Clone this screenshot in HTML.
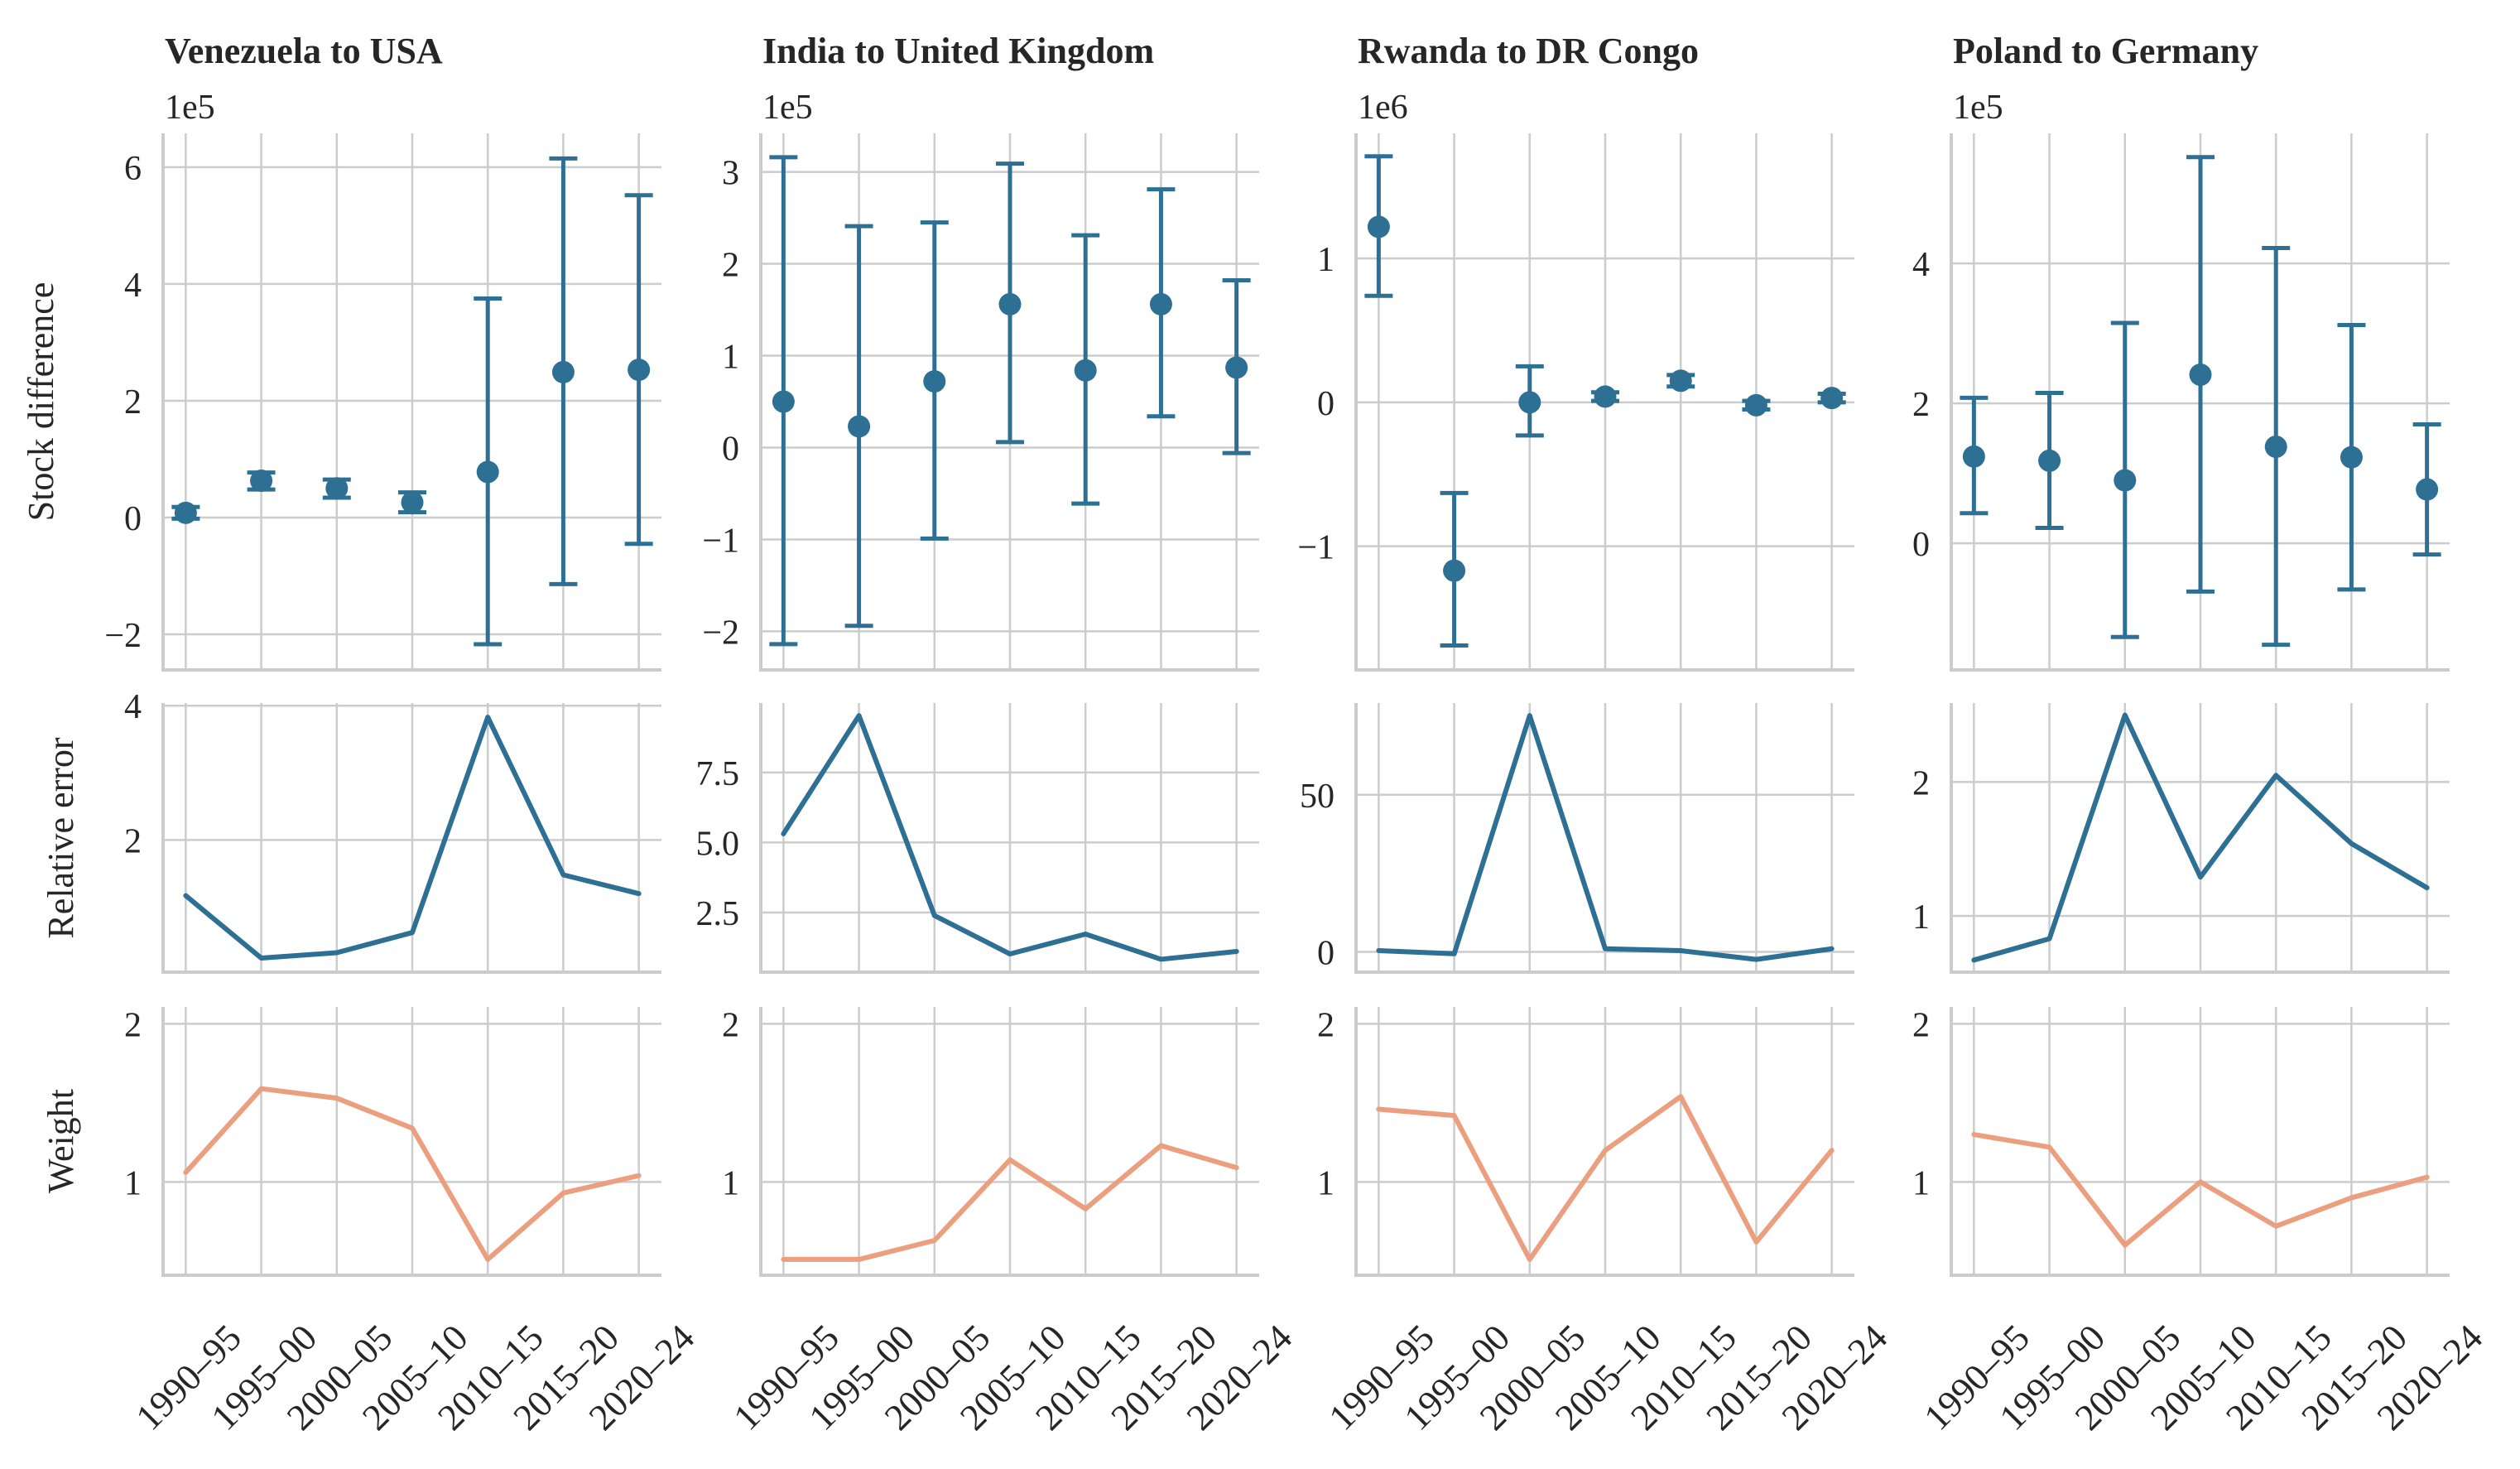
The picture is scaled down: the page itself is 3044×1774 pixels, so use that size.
<!DOCTYPE html>
<html><head><meta charset="utf-8"><style>
html,body{margin:0;padding:0;background:#fff;}
svg text{font-family:"Liberation Serif",serif;fill:#262626;}
</style></head><body>
<svg id="chart" width="3044" height="1769" viewBox="0 0 3044 1769" xmlns="http://www.w3.org/2000/svg"></svg>
<script>
const categories = ["1990–95","1995–00","2000–05","2005–10","2010–15","2015–20","2020–24"];
const panelTitles = ["Venezuela to USA","India to United Kingdom","Rwanda to DR Congo","Poland to Germany"];
const scaleLabels = ["1e5","1e5","1e6","1e5"];
// Stock difference (in scaled units)
const stockMean = [
 [0.08,0.63,0.5,0.26,0.78,2.49,2.53],
 [0.5,0.23,0.72,1.56,0.84,1.56,0.87],
 [1.22,-1.17,0,0.04,0.15,-0.02,0.03],
 [1.24,1.18,0.9,2.41,1.38,1.23,0.77]];
const stockLow = [
 [-0.02,0.48,0.34,0.09,-2.17,-1.14,-0.45],
 [-2.14,-1.94,-0.99,0.06,-0.61,0.34,-0.06],
 [0.74,-1.69,-0.23,0.01,0.11,-0.05,0.0],
 [0.43,0.22,-1.34,-0.69,-1.45,-0.66,-0.16]];
const stockHigh = [
 [0.18,0.77,0.65,0.43,3.75,6.15,5.52],
 [3.16,2.41,2.45,3.09,2.31,2.81,1.82],
 [1.71,-0.63,0.25,0.07,0.19,0.01,0.06],
 [2.08,2.15,3.15,5.52,4.22,3.12,1.70]];
const relError = [
 [1.17,0.24,0.32,0.62,3.83,1.48,1.2],
 [5.31,9.53,2.39,1.02,1.73,0.83,1.11],
 [0.4,-0.6,75.2,1.0,0.4,-2.4,1.0],
 [0.67,0.83,2.5,1.29,2.05,1.54,1.21]];
const weights = [
 [1.06,1.59,1.53,1.34,0.51,0.93,1.04],
 [0.51,0.51,0.63,1.14,0.83,1.23,1.09],
 [1.46,1.42,0.51,1.20,1.54,0.62,1.20],
 [1.30,1.22,0.60,1.0,0.72,0.90,1.03]];
const stockTicks = [[-2,0,2,4,6],[-2,-1,0,1,2,3],[-1,0,1],[0,2,4]];
const stockTickLabels = [["−2","0","2","4","6"],["−2","−1","0","1","2","3"],["−1","0","1"],["0","2","4"]];
const stockLim = [[-2.61,6.58],[-2.42,3.42],[-1.86,1.87],[-1.81,5.86]];
const errTicks = [[2,4],[2.5,5,7.5],[0,50],[1,2]];
const errTickLabels = [["2","4"],["2.5","5.0","7.5"],["0","50"],["1","2"]];
const errLim = [[0.03,4.04],[0.37,9.98],[-6.45,79.2],[0.58,2.59]];
const wTicks = [1,2];
const wTickLabels = ["1","2"];
const wLim = [0.41,2.107];

const svg = document.getElementById('chart');
const NS = "http://www.w3.org/2000/svg";
const colX = [197,919,1638,2357], W = 602;
const rows = [[161,809],[849,1174],[1216,1540]];
const BLUE = "#2e6f94", SALMON = "#eb9f7e", GRID = "#cccccc";
function el(tag, attrs, parent){const e=document.createElementNS(NS,tag);for(const k in attrs)e.setAttribute(k,attrs[k]);(parent||svg).appendChild(e);return e;}
function xs(c,i){return colX[c] + (i+0.3)/6.6*W;}
function ys(r,lim,v){const [t,b]=rows[r];return b-(v-lim[0])/(lim[1]-lim[0])*(b-t);}

function axes(c,r,lim,ticks,labels,name){
  const g=el('g',{});
  
  
  const [t,b]=rows[r];
  categories.forEach((cat,i)=>{el('line',{x1:xs(c,i),x2:xs(c,i),y1:t,y2:b,stroke:GRID,'stroke-width':2.5},g);});
  ticks.forEach((v,k)=>{
    const y=ys(r,lim,v);
    el('line',{x1:colX[c],x2:colX[c]+W,y1:y,y2:y,stroke:GRID,'stroke-width':2.5},g);
    const tx=el('text',{x:colX[c]-26,y:y+15,'font-size':42,'text-anchor':'end'},g);
    tx.textContent=labels[k];
    
    
  });
  el('line',{x1:colX[c],x2:colX[c],y1:t,y2:b+2,stroke:GRID,'stroke-width':4},g);
  el('line',{x1:colX[c]-2,x2:colX[c]+W,y1:b,y2:b,stroke:GRID,'stroke-width':4},g);
  return g;
}

for(let c=0;c<4;c++){
  const ti=el('text',{x:colX[c]+2,y:76,'font-size':44,'font-weight':'bold'});
  ti.textContent=panelTitles[c];
  
  
  const sc=el('text',{x:colX[c]+2,y:143,'font-size':42});
  sc.textContent=scaleLabels[c];
  
  

  const g0=axes(c,0,stockLim[c],stockTicks[c],stockTickLabels[c],'stock-difference-axes');
  categories.forEach((cat,i)=>{
    const x=xs(c,i), lim=stockLim[c];
    const yl=ys(0,lim,stockLow[c][i]), yh=ys(0,lim,stockHigh[c][i]), ym=ys(0,lim,stockMean[c][i]);
    const eb=el('g',{},g0);
    
    
    el('line',{x1:x,x2:x,y1:yl,y2:yh,stroke:BLUE,'stroke-width':5},eb);
    el('line',{x1:x-17,x2:x+17,y1:yl,y2:yl,stroke:BLUE,'stroke-width':5},eb);
    el('line',{x1:x-17,x2:x+17,y1:yh,y2:yh,stroke:BLUE,'stroke-width':5},eb);
    const p=el('circle',{cx:x,cy:ym,r:13.5,fill:BLUE},eb);
    
    
  });

  const g1=axes(c,1,errLim[c],errTicks[c],errTickLabels[c],'relative-error-axes');
  const pl1=el('polyline',{points:relError[c].map((v,i)=>xs(c,i)+','+ys(1,errLim[c],v)).join(' '),fill:'none',stroke:BLUE,'stroke-width':6,'stroke-linejoin':'round','stroke-linecap':'round'},g1);
  
  

  const g2=axes(c,2,wLim,wTicks,wTickLabels,'weight-axes');
  const pl2=el('polyline',{points:weights[c].map((v,i)=>xs(c,i)+','+ys(2,wLim,v)).join(' '),fill:'none',stroke:SALMON,'stroke-width':6,'stroke-linejoin':'round','stroke-linecap':'round'},g2);
  
  

  categories.forEach((cat,i)=>{
    const x=xs(c,i)+4, y=1664;
    const t=el('text',{x:x,y:y+14,'font-size':45,'text-anchor':'middle',transform:`rotate(-45 ${x} ${y})`});
    t.textContent=cat;
    
    
  });
}
[["Stock difference",64,485],["Relative error",88,1012],["Weight",88,1378]].forEach(([txt,x,y])=>{
  const t=el('text',{x:x,y:y,'font-size':44,'text-anchor':'middle',transform:`rotate(-90 ${x} ${y})`});
  t.textContent=txt;
  
  
});
</script>
</body></html>
